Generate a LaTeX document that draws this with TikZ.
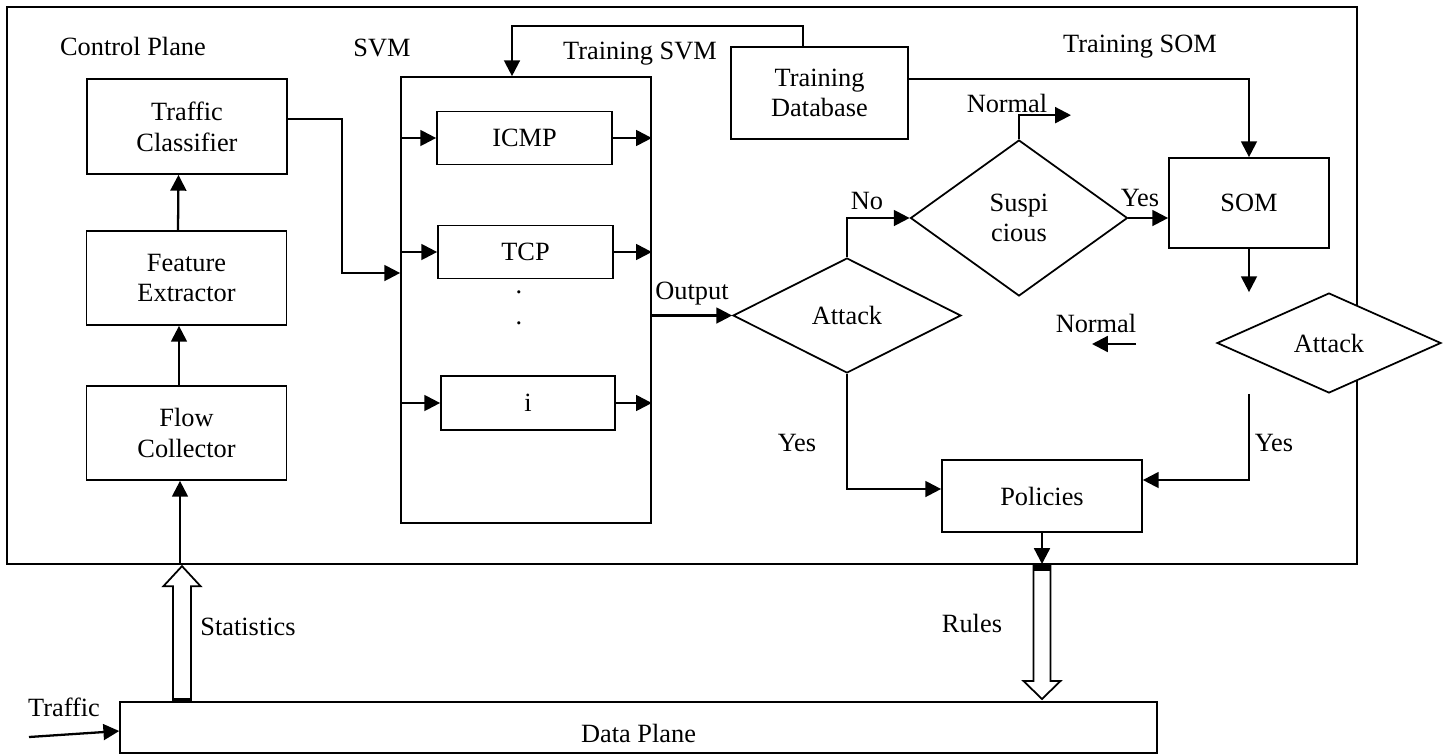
\documentclass[tikz,border=0pt]{standalone}
\usepackage{fontspec}
\setmainfont{Liberation Serif}
\usepackage{tikz}
\usetikzlibrary{arrows.meta,shapes.geometric}

\begin{document}
\begin{tikzpicture}[x=0.02cm, y=-0.02cm, font=\fontsize{15}{17.5}\selectfont,
  box/.style={draw, line width=1pt, align=center, inner sep=0pt},
  dec/.style={draw, diamond, fill=white, line width=1pt, align=center, inner sep=0pt, aspect=2},
  arr/.style={line width=1.3pt, -{Triangle[length=9pt,width=9pt]}},
  hollow/.style={draw, line width=1pt, fill=white}]
\useasboundingbox (0,0) rectangle (1448,755);
\draw[line width=1pt] (7,7) coordinate (cpnw) rectangle (1357,564) coordinate (cpse);

\node[box, minimum width=4cm, minimum height=1.9cm] (tc) at (187,126.5) {Traffic\\Classifier};
\node[box, minimum width=4cm, minimum height=1.88cm] (fe) at (186.5,278) {Feature\\Extractor};
\node[box, minimum width=4cm, minimum height=1.88cm] (fc) at (186.5,433) {Flow\\Collector};
\node[box, minimum width=5cm, minimum height=8.92cm] (svm) at (526,300) {};
\node[box, minimum width=3.5cm, minimum height=1.06cm] (icmp) at (524.5,138) {ICMP};
\node[box, minimum width=3.5cm, minimum height=1.06cm] (tcp) at (525.5,252) {TCP};
\node[box, minimum width=3.48cm, minimum height=1.08cm] (i) at (528,403) {i};
\node (dot1) at (519,292) {.};
\node (dot2) at (519,323) {.};
\node[box, minimum width=3.54cm, minimum height=1.84cm] (tdb) at (819.5,93) {Training\\Database};
\node[box, minimum width=3.2cm, minimum height=1.8cm] (som) at (1249,203) {SOM};
\node[box, minimum width=4cm, minimum height=1.44cm] (pol) at (1042,496) {Policies};
\node[box, minimum width=20.74cm, minimum height=1.02cm, text height=0.6cm, text depth=0cm] (dp) at (638.5,727.5) {Data Plane};
\node[dec, minimum width=4.56cm, minimum height=2.3cm] (atk) at (847,315.5) {Attack};
\node[dec, minimum width=4.34cm, minimum height=3.12cm] (sus) at (1019,218) {Suspi\\cious};
\node[dec, minimum width=4.48cm, minimum height=2cm] (atk2) at (1329,343) {Attack};

\node (lcp) at (133,46) {Control Plane};
\node (lsvm) at (382,48) {SVM};
\node (ltsvm) at (640,54) {Training SVM};
\node (ltsom) at (1140,47) {Training SOM};
\node (lout) at (692,294) {Output};
\node (lno) at (867,201) {No};
\node (lnrm1) at (1007,103) {Normal};
\node (lyes1) at (1140,198) {Yes};
\node (lnrm2) at (1096,323) {Normal};
\node (lyes2) at (797,443) {Yes};
\node (lyes3) at (1274,443) {Yes};
\node (lstat) at (248,627) {Statistics};
\node (lrul) at (972,623) {Rules};
\node (ltrf) at (64,707) {Traffic};

\draw[arr] ([xshift=-1.7mm]fe.north) -- ([xshift=-1.7mm]tc.south);
\draw[arr] ([xshift=-1.5mm]fc.north) -- ([xshift=-1.5mm]fe.south);
\draw[arr] ([xshift=-1.3mm]fc.south |- cpse) -- ([xshift=-1.3mm]fc.south);
\draw[arr] ([yshift=1.5mm]tc.east) -- ++(54,0) |- ([yshift=5.4mm]svm.west);
\foreach \n in {icmp,tcp,i} {
  \draw[arr] (svm.west |- \n) -- (\n.west);
  \draw[arr] (\n.east) -- (svm.east |- \n);
}
\draw[arr] (svm.east |- atk) -- (atk.west);
\draw[arr] ([xshift=-3.3mm]tdb.north) -- ++(0,-20) -| ([xshift=-2.8mm]svm.north);
\draw[arr] ([yshift=2.8mm]tdb.east) -| (som.north);
\draw[arr] (atk.north) |- (sus.west);
\draw[arr] (sus.north) |- ++(52,-24);
\draw[arr] (sus.east) -- (sus.east -| som.west);
\draw[arr] (som.south) -- (som.south |- atk2.north);
\draw[arr] (som.south |- atk2.south) |- ([yshift=3.2mm]pol.east);
\draw[arr] (atk.south) |- ([yshift=1.4mm]pol.west);
\coordinate (nrm) at (1136,344);
\draw[arr] (nrm) -- ++(-44,0);
\draw[arr] (pol.south) -- (pol.south |- cpse);
\coordinate (trf) at (29,737);
\draw[arr] (trf) -- ([yshift=-0.7mm]dp.west);

\coordinate (stb) at ([xshift=-0.9mm]fc.south |- dp.north);
\draw[hollow] (stb) ++(-9,0) -- ++(0,-115) -- ++(-9.5,0) -- ++(18.5,-20) -- ++(18.5,20) -- ++(-9.5,0) -- ++(0,115) -- cycle;
\fill (stb) ++(-9,0) rectangle ++(18,-3);
\coordinate (rlt) at (pol.south |- cpse);
\draw[hollow] (rlt) ++(-8.5,0) -- ++(0,117) -- ++(-10,0) -- ++(18.5,18) -- ++(18.5,-18) -- ++(-10,0) -- ++(0,-117) -- cycle;
\fill (rlt) ++(-8.5,1) rectangle ++(17,6);
\end{tikzpicture}
\end{document}
